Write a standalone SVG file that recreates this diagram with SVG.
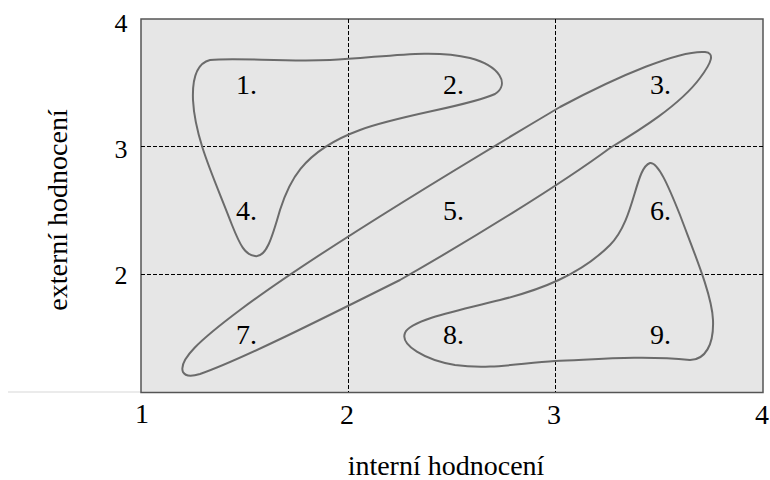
<svg xmlns="http://www.w3.org/2000/svg" width="770" height="480" viewBox="0 0 770 480">
<style>
text{font-family:'Liberation Serif','Times New Roman',serif;fill:#000}
.tick{font-size:28px;text-anchor:middle}
.ytick{font-size:26px;text-anchor:middle}
.lab{font-size:28px}
.title{font-size:28px;text-anchor:middle}
.grid{stroke:#000;stroke-width:1;stroke-dasharray:4 2;fill:none}
.curve{fill:none;stroke:#6b6b6b;stroke-width:2}
</style>
<rect x="0" y="0" width="770" height="480" fill="#fff"/>
<line x1="8" y1="392" x2="141" y2="392" stroke="#e4e4e4" stroke-width="1.5"/>
<g id="plot">
<rect x="141" y="19" width="622" height="373.5" fill="#e6e6e6" stroke="#555" stroke-width="1.5"/>
<line class="grid" x1="348.5" y1="19" x2="348.5" y2="392"/>
<line class="grid" x1="555.5" y1="19" x2="555.5" y2="392"/>
<line class="grid" x1="141" y1="146.5" x2="763" y2="146.5"/>
<line class="grid" x1="141" y1="274.5" x2="763" y2="274.5"/>
</g>
<g id="axes" font-family="Liberation Serif, serif">
<text class="ytick" x="121" y="32">4</text>
<text class="ytick" x="121" y="158">3</text>
<text class="ytick" x="121" y="284">2</text>
<text class="tick" x="142" y="423">1</text>
<text class="tick" x="347" y="424">2</text>
<text class="tick" x="554" y="424">3</text>
<text class="tick" x="762" y="424">4</text>
<text class="title" x="446" y="475">interní hodnocení</text>
<text class="title" transform="translate(67,210) rotate(-90)">externí hodnocení</text>
</g>
<g id="connectors">
<path id="group-124" class="curve" d="M 210,60 C 235,57 280,62 330,60 C 380,58 430,48 470,58 C 500,66 510,84 495,94 C 470,106 400,115 360,130 C 300,152 288,185 280,210 C 272,238 266,258 255,256 C 245,255 240,245 232,225 C 215,180 195,140 193,100 C 192,75 198,63 210,60 Z"/>
<path id="group-357" class="curve" d="M 183,372 C 178,360 200,340 240,310 C 300,265 420,190 560,107 C 620,75 680,50 705,52 C 715,53 712,62 700,78 C 680,105 640,130 610,148 C 560,185 470,240 400,280 C 320,320 240,360 200,374 C 190,377 185,376 183,372 Z"/>
<path id="group-689" class="curve" d="M 650,163 C 658,162 668,185 680,215 C 695,255 712,295 713,320 C 714,345 705,360 690,360 C 640,355 590,360 555,361 C 520,363 490,370 455,365 C 425,360 400,345 405,333 C 410,320 460,310 500,300 C 540,290 580,275 610,245 C 635,220 635,168 650,163 Z"/>
</g>
<g class="lab" font-family="Liberation Serif, serif">
<g id="n1"><text x="236" y="94">1.</text></g>
<g id="n2"><text x="443" y="94">2.</text></g>
<g id="n3"><text x="650" y="94">3.</text></g>
<g id="n4"><text x="236" y="220">4.</text></g>
<g id="n5"><text x="443" y="220">5.</text></g>
<g id="n6"><text x="650" y="220">6.</text></g>
<g id="n7"><text x="236" y="344">7.</text></g>
<g id="n8"><text x="443" y="344">8.</text></g>
<g id="n9"><text x="650" y="344">9.</text></g>
</g>
</svg>
